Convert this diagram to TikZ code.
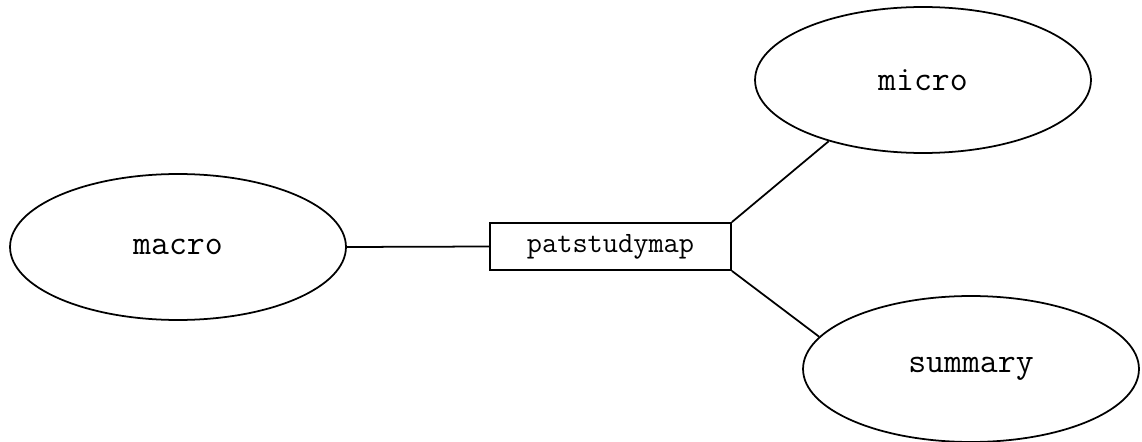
\documentclass[tikz,border=0pt]{standalone}
\usetikzlibrary{shapes.geometric}
\begin{document}
\begin{tikzpicture}[x=0.02cm,y=-0.02cm,
  ell/.style={draw,ellipse,line width=1pt,minimum width=6.72cm,minimum height=2.92cm,inner sep=0pt,font=\ttfamily\fontsize{19.8}{22}\selectfont},
  boxn/.style={draw,rectangle,line width=1pt,minimum width=4.82cm,minimum height=0.94cm,inner sep=0pt,font=\ttfamily\fontsize{16.8}{19}\selectfont},
  conn/.style={line width=1pt}]
\useasboundingbox (0,0) rectangle (1142,442);
\node[ell] (macro) at (178,247) {\raisebox{-2pt}{macro}};
\node[ell] (micro) at (923,80) {\raisebox{-2pt}{micro}};
\node[ell] (summary) at (971,369) {\raisebox{-2pt}{summary}};
\node[boxn] (map) at (610.5,246.5) {patstudymap};
\draw[conn] (macro.east) -- (map.west);
\draw[conn] (map.north east) -- (micro.213.8);
\draw[conn] (map.south east) -- (summary.168.6);
\end{tikzpicture}
\end{document}
